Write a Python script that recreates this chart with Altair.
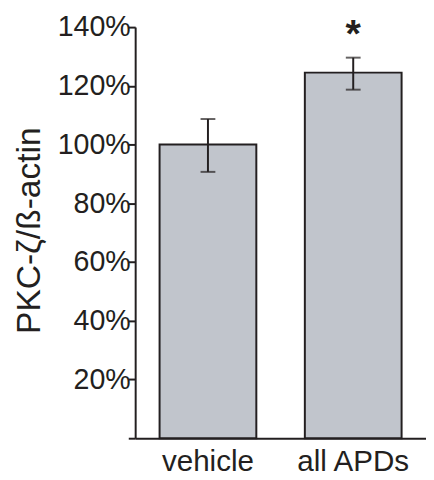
import altair as alt
import pandas as pd

groups = ["vehicle", "all APDs"]
means = [1.00, 1.245]
err_lo = [0.907, 1.187]
err_hi = [1.087, 1.296]
sig = ["", "*"]

df = pd.DataFrame({"group": groups, "mean": means, "lo": err_lo, "hi": err_hi, "sig": sig})

INK = "#231f20"
FONT = "Liberation Sans"

x = alt.X("group:N", sort=groups,
          scale=alt.Scale(paddingInner=0.334, paddingOuter=0.168),
          axis=alt.Axis(title=None, labelAngle=0, ticks=False, labelFontSize=30,
                        labelFont=FONT, labelColor=INK, labelPadding=9,
                        domainColor=INK, domainWidth=2))

y_scale = alt.Scale(domain=[0, 1.4], nice=False, zero=True)

bars = alt.Chart(df).mark_bar(color="#c1c5cc", stroke=INK, strokeWidth=2).encode(
    x=x,
    y=alt.Y("mean:Q", scale=y_scale,
            axis=alt.Axis(title="PKC-ζ/ß-actin", values=[0, 0.2, 0.4, 0.6, 0.8, 1.0, 1.2, 1.4],
                          labelExpr="datum.value == 0 ? '' : format(datum.value, '.0%')",
                          labelFontSize=29, labelFont=FONT, labelColor=INK, labelPadding=-2,
                          tickSize=7, tickWidth=2, tickColor=INK,
                          domainColor=INK, domainWidth=2, grid=False,
                          titleFont=FONT, titleFontSize=34, titleFontWeight="normal",
                          titleColor=INK, titleAngle=-90, titleBaseline="alphabetic",
                          titleAlign="center", titleX=-97, titleY=206)),
)

rules = alt.Chart(df).mark_rule(color=INK, strokeWidth=2).encode(
    x=alt.X("group:N", sort=groups), y="lo:Q", y2="hi:Q")

caps_lo = alt.Chart(df).mark_tick(color=INK, thickness=2, size=15).encode(
    x=alt.X("group:N", sort=groups), y="lo:Q")
caps_hi = alt.Chart(df).mark_tick(color=INK, thickness=2, size=15).encode(
    x=alt.X("group:N", sort=groups), y="hi:Q")

star = alt.Chart(df).mark_text(font=FONT, fontSize=40, fontWeight="bold", color=INK,
                               baseline="alphabetic", dy=-11).encode(
    x=alt.X("group:N", sort=groups), y="hi:Q", text="sig:N")

chart = alt.layer(bars, rules, caps_lo, caps_hi, star).properties(
    width=295, height=417,
    autosize=alt.AutoSizeParams(type="none"),
    padding={"left": 129, "top": 16, "right": 0, "bottom": 39},
).configure_view(stroke=None)

chart.save("out.html", embed_options={"renderer": "svg", "actions": False})
